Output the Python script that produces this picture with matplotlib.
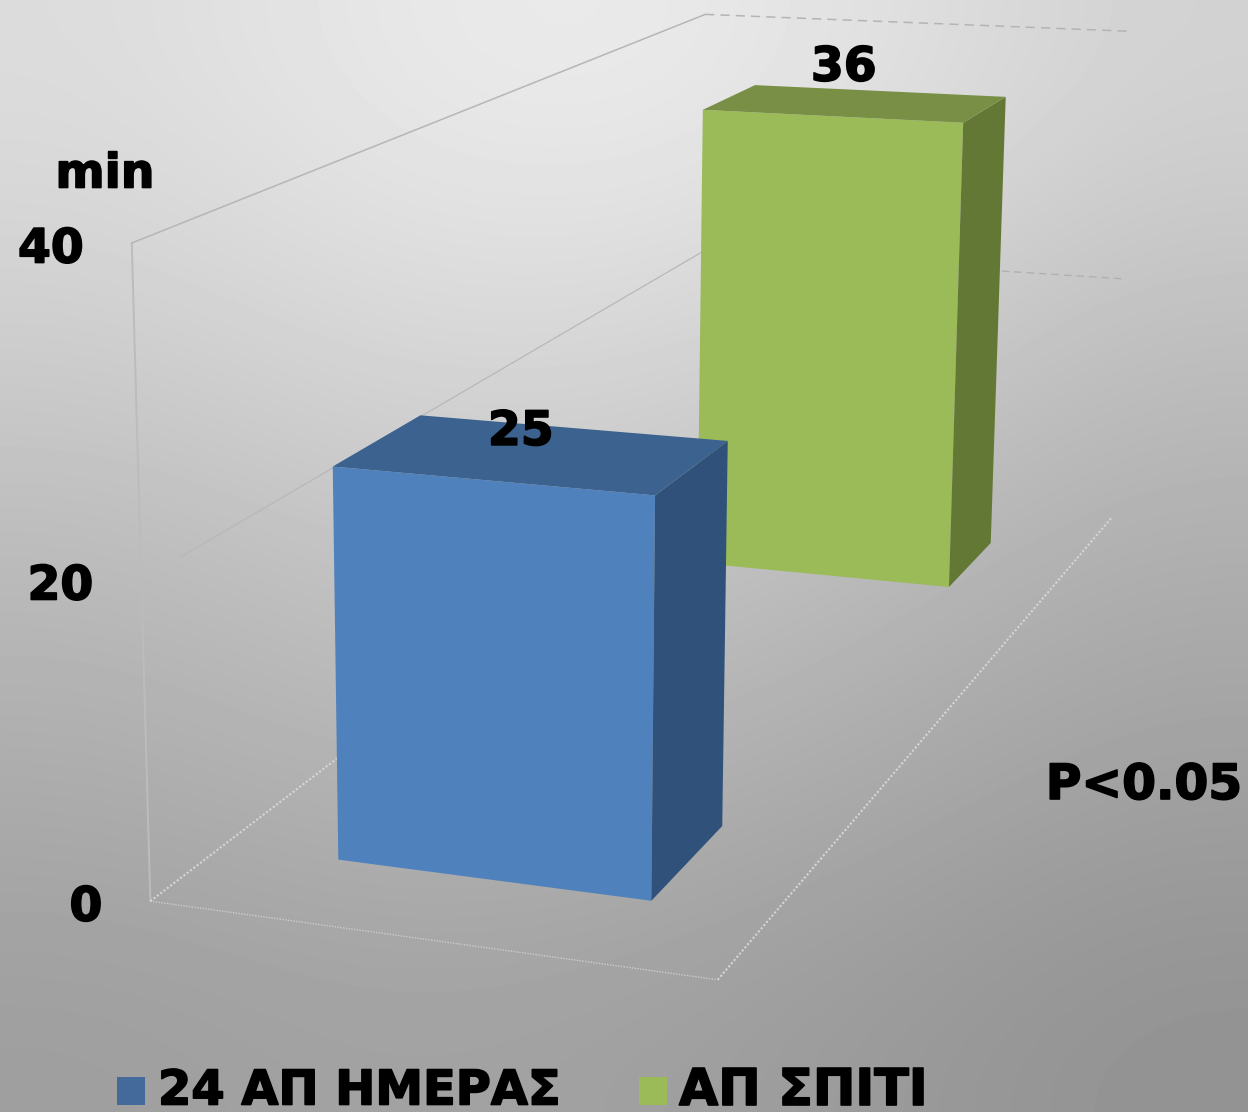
import numpy as np
import matplotlib
matplotlib.use('Agg')
import matplotlib.pyplot as plt
import matplotlib.patheffects as pe
from matplotlib.patches import Polygon, Rectangle

# DATA
series = ['24 ΑΠ ΗΜΕΡΑΣ', 'ΑΠ ΣΠΙΤΙ']
values = [25, 36]
y_ticks = [0, 20, 40]
y_unit = 'min'
note = 'P<0.05'

W, H = 1248, 1112

# camera fit: chart box (x 0-1, value, depth 0-1) -> pixels
box_pts = [(0, 0, 0), (1, 0, 0), (1, 0, 1), (0, 40, 0), (0, 40, 1), (1, 40, 1),
           (0, 20, 0), (0, 20, 1), (1, 20, 1)]
pix_pts = [(152, 903), (717, 981), (1113, 516), (131, 245), (707, 12), (1133, 33),
           (141, 575), (700, 255), (1120, 278)]

A = []
b = []
for (X, Y, Z), (u, v) in zip(box_pts, pix_pts):
    A.append([X, Y, Z, 1, 0, 0, 0, 0, -u*X, -u*Y, -u*Z])
    A.append([0, 0, 0, 0, X, Y, Z, 1, -v*X, -v*Y, -v*Z])
    b += [u, v]
P = np.linalg.lstsq(np.array(A, float), np.array(b, float), rcond=None)[0]
P = np.append(P, 1).reshape(3, 4)

def proj(x, y, z):
    q = P @ np.array([x, y, z, 1.0])
    return q[0]/q[2], q[1]/q[2]

fig = plt.figure(figsize=(W/100, H/100), dpi=100)
ax = fig.add_axes([0, 0, 1, 1])
ax.set_xlim(0, W)
ax.set_ylim(H, 0)
ax.axis('off')

# background shading
bg = np.array([[220, 232, 236, 226, 210],
               [206, 216, 216, 206, 190],
               [186, 196, 196, 186, 174],
               [172, 180, 178, 170, 160],
               [158, 162, 160, 154, 146]]) / 255
ax.imshow(bg, cmap='gray', vmin=0, vmax=1, extent=[0, W, H, 0], aspect='auto',
          interpolation='bicubic', zorder=0)

def seg(p1, p2, **kw):
    a = proj(*p1)
    c = proj(*p2)
    ax.plot([a[0], c[0]], [a[1], c[1]], zorder=1, **kw)

seg((0, 0, 0), (0, 40, 0), color='#bcbcbc', lw=1.4)
seg((0, 40, 0), (0, 40, 1), color='#b6b6b6', lw=1.1)
seg((0, 40, 1), (1, 40, 1), color='#b4b4b4', lw=1.1, ls=(0, (6, 4)))
seg((0, 20, 0.05), (0, 20, 1), color='#b8b8b8', lw=0.9)
seg((0, 20, 1), (1, 20, 1), color='#aeaeae', lw=0.9, ls=(0, (6, 4)))
seg((0, 0, 0), (1, 0, 0), color='#cccccc', lw=1.0, ls=(0, (1, 1)))
seg((1, 0, 0), (1, 0, 1), color='#d6d6d6', lw=1.5, ls=(0, (1, 1)))
seg((0, 0, 0), (0, 0, 1), color='#d6d6d6', lw=1.5, ls=(0, (1, 1)))

def bar(val, x0, x1, z0, z1, front, top, side):
    pts = lambda c: [proj(*k) for k in c]
    ax.add_patch(Polygon(pts([(x0, 0, z0), (x1, 0, z0), (x1, val, z0), (x0, val, z0)]),
                         fc=front, ec='none', zorder=3))
    ax.add_patch(Polygon(pts([(x1, 0, z0), (x1, 0, z1), (x1, val, z1), (x1, val, z0)]),
                         fc=side, ec='none', zorder=3))
    ax.add_patch(Polygon(pts([(x0, val, z0), (x1, val, z0), (x1, val, z1), (x0, val, z1)]),
                         fc=top, ec='none', zorder=3))

# back bar first
bar(values[1], 0.218, 0.79, 0.77, 0.897, '#9bbb59', '#788f45', '#647836')
bar(values[0], 0.218, 0.79, 0.098, 0.229, '#4f81bd', '#3c628f', '#30527a')

heavy = [pe.withStroke(linewidth=1.2, foreground='black')]
tx = dict(fontweight='bold', color='black', zorder=5, path_effects=heavy)

for t in y_ticks:
    px, py = proj(0, t, 0)
    ax.text(px - 48, py + 7, str(t), ha='right', va='center', fontsize=34, **tx)
ax.text(105, 175, y_unit, ha='center', va='center', fontsize=34, **tx)
ax.text(1144, 785, note, ha='center', va='center', fontsize=35, **tx)

px, py = proj(0.504, values[0], 0.164)
ax.text(px - 12, py - 21, str(values[0]), ha='center', va='center', fontsize=34, **tx)
px, py = proj(0.504, values[1], 0.834)
ax.text(px - 12, py - 35, str(values[1]), ha='center', va='center', fontsize=34, **tx)

# legend
for name, c, sx, tx0, fs in zip(series, ['#44699b', '#9bbb59'], [117, 639], [158, 679], [34.5, 36.5]):
    ax.add_patch(Rectangle((sx, 1077), 28, 28, fc=c, ec='none', zorder=4))
    ax.text(tx0, 1091, name, ha='left', va='center', fontsize=fs, **tx)

plt.savefig('out.png', dpi=100)
